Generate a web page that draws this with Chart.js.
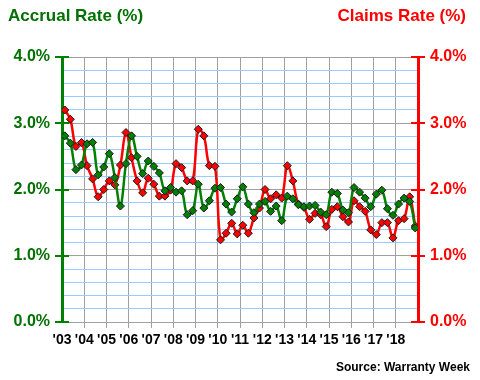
<!DOCTYPE html>
<html>
<head>
<meta charset="utf-8">
<script src="https://cdn.jsdelivr.net/npm/chart.js@4.4.1/dist/chart.umd.min.js"></script>
<style>
  html, body { margin: 0; padding: 0; background: #fff; }
  #wrap { width: 480px; height: 380px; }
</style>
</head>
<body>
<div id="wrap"><canvas id="warrantyChart" width="480" height="380"></canvas></div>
<script>
// Quarterly accrual vs claims rate, 2003 Q1 .. 2018 Q4
const yearLabels = ["'03", "'04", "'05", "'06", "'07", "'08", "'09", "'10",
                    "'11", "'12", "'13", "'14", "'15", "'16", "'17", "'18"];
const yTickLabels = ['0.0%', '1.0%', '2.0%', '3.0%', '4.0%'];

const accrualRate = [
  2.81, 2.70, 2.30, 2.37, 2.69, 2.71, 2.22, 2.34,
  2.54, 2.18, 1.75, 2.39, 2.81, 2.50, 2.24, 2.43,
  2.35, 2.25, 1.98, 2.03, 1.96, 1.98, 1.62, 1.68,
  2.08, 1.72, 1.83, 2.02, 2.03, 1.78, 1.66, 1.86,
  2.04, 1.78, 1.65, 1.78, 1.82, 1.67, 1.75, 1.53,
  1.90, 1.86, 1.77, 1.74, 1.75, 1.76, 1.66, 1.62,
  1.96, 1.94, 1.69, 1.65, 2.03, 1.96, 1.87, 1.74,
  1.93, 1.99, 1.71, 1.61, 1.78, 1.87, 1.82, 1.42
];
const claimsRate = [
  3.20, 3.06, 2.65, 2.71, 2.36, 2.16, 1.89, 2.00,
  2.13, 2.07, 2.37, 2.86, 2.48, 2.13, 1.95, 2.17,
  2.08, 1.90, 1.90, 1.99, 2.39, 2.33, 2.13, 2.13,
  2.91, 2.81, 2.36, 2.35, 1.24, 1.34, 1.49, 1.33,
  1.46, 1.34, 1.57, 1.72, 2.00, 1.86, 1.92, 1.87,
  2.36, 2.13, 1.78, 1.73, 1.55, 1.64, 1.62, 1.44,
  1.70, 1.74, 1.59, 1.51, 1.83, 1.74, 1.67, 1.39,
  1.32, 1.50, 1.50, 1.27, 1.53, 1.56, 1.89, 1.45
];

Chart.defaults.font.family = '"Liberation Sans", Arial, sans-serif';
Chart.defaults.font.weight = 'bold';

const GREEN = '#008000';
const GREEN_TEXT = '#007000';
const RED = '#ff0000';
const GRID = '#a0a0a0';
const MINOR = '#99ccff';

const toPoints = arr => arr.map((v, i) => ({ x: i + 0.5, y: v }));
const isMajor = v => Math.abs(v - Math.round(v)) < 1e-6;

// axis cross ticks + headings + source note
const extras = {
  id: 'extras',
  afterDraw(chart) {
    const { ctx, chartArea: a, scales } = chart;
    ctx.save();
    ctx.lineWidth = 2;
    [[scales.y, a.left, GREEN], [scales.y2, a.right, RED]].forEach(([s, x, c]) => {
      ctx.strokeStyle = c;
      yTickLabels.forEach((_, k) => {
        const py = Math.round(s.getPixelForValue(k));
        ctx.beginPath();
        ctx.moveTo(x - 7, py);
        ctx.lineTo(x + 7, py);
        ctx.stroke();
      });
    });
    ctx.font = 'bold 17px "Liberation Sans", Arial, sans-serif';
    ctx.textBaseline = 'alphabetic';
    ctx.textAlign = 'left';
    ctx.fillStyle = GREEN_TEXT;
    ctx.fillText('Accrual Rate (%)', 8, 21);
    ctx.textAlign = 'right';
    ctx.fillStyle = RED;
    ctx.fillText('Claims Rate (%)', 466, 21);
    ctx.font = 'bold 12px "Liberation Sans", Arial, sans-serif';
    ctx.fillStyle = '#000';
    ctx.fillText('Source: Warranty Week', 470, 371);
    ctx.restore();
  }
};

const lineStyle = (color) => ({
  borderColor: color,
  borderWidth: 2.5,
  tension: 0.38,
  pointStyle: 'rectRot',
  pointRadius: 4,
  pointBackgroundColor: color,
  pointBorderColor: '#1a1a1a',
  pointBorderWidth: 1,
  fill: false
});

new Chart(document.getElementById('warrantyChart'), {
  type: 'line',
  data: {
    datasets: [
      Object.assign({ label: 'Accrual Rate (%)', data: toPoints(accrualRate), yAxisID: 'y' }, lineStyle(GREEN)),
      Object.assign({ label: 'Claims Rate (%)', data: toPoints(claimsRate), yAxisID: 'y2' }, lineStyle(RED))
    ]
  },
  options: {
    responsive: false,
    animation: false,
    devicePixelRatio: 1,
    layout: { padding: { top: 57, left: 0, right: 0, bottom: 0 } },
    plugins: { legend: { display: false }, tooltip: { enabled: false } },
    scales: {
      x: {
        type: 'linear',
        min: 0,
        max: yearLabels.length * 4,
        afterFit: s => { s.height = 58; },
        grid: {
          color: c => (c.tick.value === 0 || c.tick.value === yearLabels.length * 4) ? 'rgba(0,0,0,0)' : GRID,
          tickLength: 6,
          drawTicks: true
        },
        border: { color: GRID, width: 1 },
        ticks: {
          stepSize: 4,
          autoSkip: false,
          maxRotation: 0,
          padding: 4,
          color: '#000',
          font: { size: 14, weight: 'bold' },
          callback: v => yearLabels[v / 4] || ''
        }
      },
      y: {
        position: 'left',
        min: 0,
        max: 4,
        afterFit: s => { s.width = 62; },
        grid: {
          color: c => isMajor(c.tick.value) ? GRID : MINOR,
          drawTicks: false
        },
        border: { color: GREEN, width: 3 },
        ticks: {
          stepSize: 0.2,
          autoSkip: false,
          padding: 12,
          color: GREEN_TEXT,
          font: { size: 16, weight: 'bold' },
          callback: v => isMajor(v) ? yTickLabels[Math.round(v)] : ''
        }
      },
      y2: {
        position: 'right',
        min: 0,
        max: 4,
        afterFit: s => { s.width = 62; },
        grid: { display: false, drawTicks: false },
        border: { color: RED, width: 3 },
        ticks: {
          stepSize: 1,
          autoSkip: false,
          padding: 12,
          color: RED,
          font: { size: 16, weight: 'bold' },
          callback: v => isMajor(v) ? yTickLabels[Math.round(v)] : ''
        }
      }
    }
  },
  plugins: [extras]
});
</script>
</body>
</html>
